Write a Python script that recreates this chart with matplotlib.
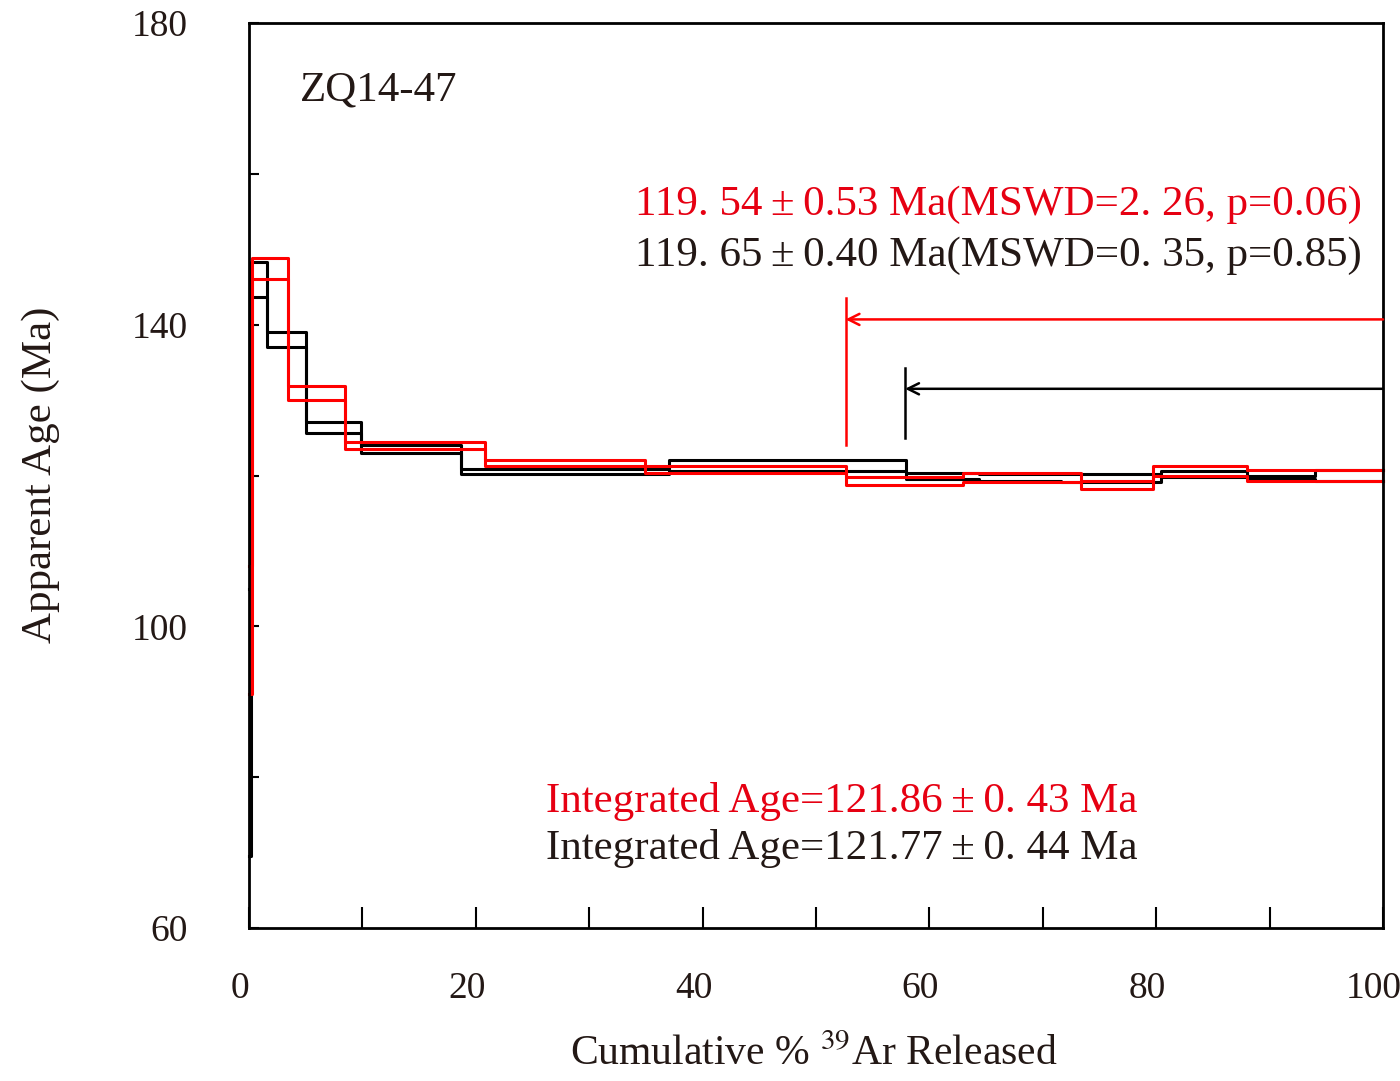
import numpy as np
import matplotlib
matplotlib.use("Agg")
import matplotlib.pyplot as plt
import matplotlib.transforms as mtrans
from matplotlib.ticker import FixedLocator

plt.rcParams['font.family'] = ['Liberation Serif', 'DejaVu Serif']
plt.rcParams['mathtext.fontset'] = 'stix'

# step boundaries (cumulative % 39Ar) and age envelopes (Ma)
black_cum = [0, 0.2, 1.55, 5.0, 9.85, 18.7, 37.0, 57.9, 64.4, 71.6, 80.4, 88.0, 94.0, 100]
black_hi = [105.0, 148.3, 139.0, 127.1, 124.0, 120.9, 122.1, 120.3, 120.2, 120.2, 120.6, 119.9, 120.7]
black_lo = [69.5, 143.7, 137.0, 125.7, 123.0, 120.2, 120.6, 119.5, 119.3, 119.2, 119.8, 119.5, 119.3]

red_cum = [0, 0.25, 3.47, 8.47, 20.8, 34.9, 52.6, 63.0, 73.4, 79.7, 88.0, 100]
red_hi = [108.0, 148.8, 131.9, 124.5, 122.1, 121.2, 119.8, 120.3, 119.3, 121.2, 120.7]
red_lo = [91.0, 146.0, 130.0, 123.5, 121.2, 120.3, 118.8, 119.2, 118.2, 119.9, 119.3]

# plateau markers: start of plateau, arrow level, vertical bar range
red_plateau = (52.6, 140.7, 124.0, 143.5)
black_plateau = (57.85, 131.5, 125.0, 134.3)

x_major = [0, 20, 40, 60, 80, 100]
x_minor = [10, 30, 50, 70, 90]
y_major = [60, 100, 140, 180]
y_minor = [80, 120, 160]

PM = '\u2009±\u2009'
red_text = "119. 54" + PM + "0.53 Ma(MSWD=2. 26, p=0.06)"
black_text = "119. 65" + PM + "0.40 Ma(MSWD=0. 35, p=0.85)"
red_int = "Integrated Age=121.86" + PM + "0. 43 Ma"
black_int = "Integrated Age=121.77" + PM + "0. 44 Ma"

RED = '#ff0000'
TRED = '#e60012'
TBLK = '#231815'


def draw_spectrum(ax, cum, hi, lo, color):
    cum = np.array(cum)
    hi = np.array(hi)
    lo = np.array(lo)
    hi_y = np.append(hi, hi[-1])
    lo_y = np.append(lo, lo[-1])
    ax.step(cum, hi_y, where='post', color=color, lw=2.2, clip_on=False)
    ax.step(cum, lo_y, where='post', color=color, lw=2.2, clip_on=False)
    ax.plot([cum[0], cum[0]], [lo[0], hi[0]], color=color, lw=2.2)
    ax.plot([cum[-1], cum[-1]], [lo[-1], hi[-1]], color=color, lw=2.2)


fig = plt.figure(figsize=(14, 10.81), dpi=100)
ax = fig.add_axes([0.1779, 0.1415, 0.81, 0.8372])

draw_spectrum(ax, black_cum, black_hi, black_lo, 'black')
draw_spectrum(ax, red_cum, red_hi, red_lo, RED)

for (x0, ya, v0, v1), c in [(red_plateau, RED), (black_plateau, 'black')]:
    ax.plot([x0, x0], [v0, v1], color=c, lw=1.8)
    ax.annotate('', xy=(x0, ya), xytext=(100, ya),
                arrowprops=dict(arrowstyle='->', color=c, lw=1.8,
                                mutation_scale=20, shrinkA=0, shrinkB=0))

ax.set_xlim(0, 100)
ax.set_ylim(60, 180)
ax.xaxis.set_major_locator(FixedLocator(x_major))
ax.xaxis.set_minor_locator(FixedLocator(x_minor))
ax.yaxis.set_major_locator(FixedLocator(y_major))
ax.yaxis.set_minor_locator(FixedLocator(y_minor))
ax.tick_params(axis='x', which='both', direction='in', length=15, width=1.5,
               pad=31, labelsize=27, labelcolor=TBLK)
ax.tick_params(axis='y', which='both', direction='in', length=7, width=1.5,
               pad=44, labelsize=27, labelcolor=TBLK)
# x labels sit slightly left of their ticks in the original
shift = mtrans.ScaledTranslation(-9 / 100, 0, fig.dpi_scale_trans)
for lbl in ax.get_xticklabels():
    lbl.set_transform(lbl.get_transform() + shift)
for s in ax.spines.values():
    s.set_linewidth(2)

ax.text(4.5, 171.1, 'ZQ14-47', fontsize=31, color=TBLK, va='center', ha='left')
ax.text(98.1, 155.9, red_text, fontsize=31, color=TRED, va='center', ha='right')
ax.text(98.1, 149.2, black_text, fontsize=31, color=TBLK, va='center', ha='right')
ax.text(26.2, 76.8, red_int, fontsize=31, color=TRED, va='center', ha='left')
ax.text(26.2, 70.6, black_int, fontsize=31, color=TBLK, va='center', ha='left')

fig.text(0.581, 0.024, r'Cumulative % $^{39}$Ar Released', fontsize=30, color=TBLK,
         ha='center', va='center')
fig.text(0.029, 0.561, 'Apparent Age (Ma)', fontsize=31, color=TBLK,
         ha='center', va='center', rotation=90)

fig.savefig('out.png', dpi=100)
